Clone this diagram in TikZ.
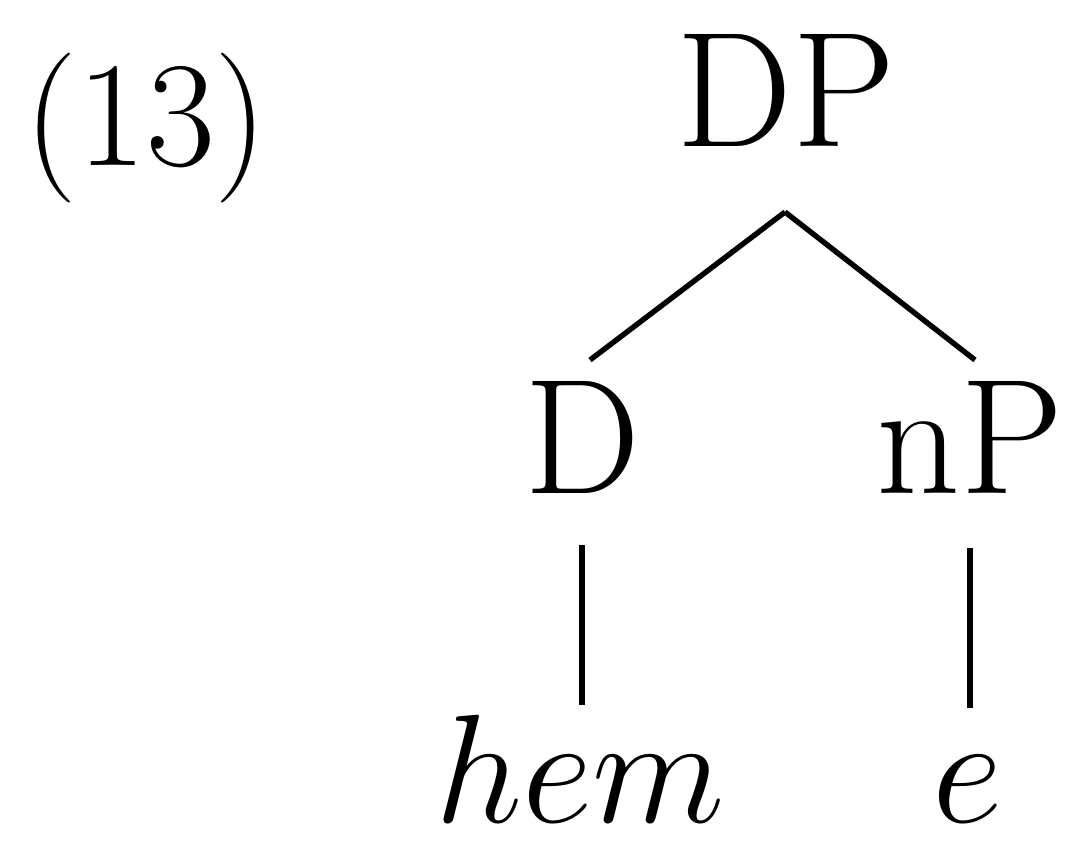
\RequirePackage{fix-cm}
\documentclass[tikz,border=0pt]{standalone}
\begin{document}
\begin{tikzpicture}[x=0.03cm,y=-0.03cm,
  lbl/.style={inner sep=0pt,anchor=base,font=\fontsize{140}{160}\selectfont},
  itlbl/.style={inner sep=0pt,anchor=base,font=\fontsize{132}{150}\selectfont},
  numlbl/.style={inner sep=0pt,anchor=base,font=\fontsize{128}{150}\selectfont},
  branch/.style={line width=4.6pt,line cap=butt}]
\useasboundingbox (0,0) rectangle (1065,854);
% example number and tree labels
\node[numlbl] (num) at (146,165) {(13)};
\node[lbl] (dp) at (786,146) {DP};
\node[lbl] (d) at (582,493) {D};
\node[lbl] (np) at (970,493) {nP};
\node[itlbl] (hem) at (580,822) {$hem$};
\node[itlbl] (e) at (968,822) {$e$};
% branch end points
\coordinate (dpfoot) at (785,212);
\coordinate (dtop) at (590,360);
\coordinate (nptop) at (975,360);
\coordinate (dfoot) at (582,545);
\coordinate (hemtop) at (582,705);
\coordinate (npfoot) at (970,548);
\coordinate (etop) at (970,708);
\draw[branch] (dpfoot) -- (dtop);
\draw[branch] (dpfoot) -- (nptop);
\draw[branch] (dfoot) -- (hemtop);
\draw[branch] (npfoot) -- (etop);
\end{tikzpicture}
\end{document}
